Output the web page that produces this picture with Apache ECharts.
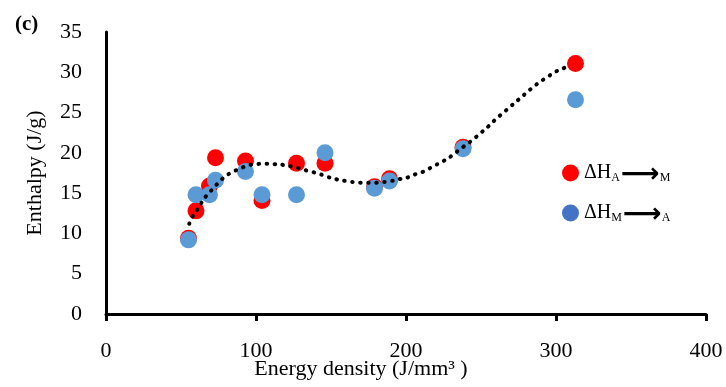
<!DOCTYPE html>
<html>
<head>
<meta charset="utf-8">
<script src="https://cdn.jsdelivr.net/npm/echarts@6/dist/echarts.min.js"></script>
<style>
  html, body { margin: 0; padding: 0; background: #fff; }
  #chart { width: 726px; height: 387px; }
</style>
</head>
<body>
<div id="chart"></div>
<script>
// energy density of each sample (J/mm3)
const energyDensity = [55, 60, 69, 73, 93, 104, 127, 146, 179, 189, 238, 313]
// enthalpy A -> M (red) and M -> A (blue), J/g
const enthalpyAM = [9.4, 12.8, 15.9, 19.4, 19.0, 14.1, 18.7, 18.7, 15.8, 16.8, 20.7, 31.1]
const enthalpyMA = [9.2, 14.8, 14.8, 16.6, 17.7, 14.8, 14.8, 20.0, 15.6, 16.5, 20.5, 26.6]
// dotted trendline
const trendX = [55.5, 58, 61, 64, 67, 71, 75, 79, 84, 89, 94, 100, 106, 112, 118, 124, 130, 136, 142, 148,
  154, 160, 166, 172, 178, 184, 190, 196, 202, 207, 212, 217, 222, 227, 231, 235, 240, 245, 250, 255,
  260, 265, 270, 275, 280, 285, 290, 295, 300, 305, 310]
const trendY = [11.2, 12.2, 13.0, 13.9, 14.7, 15.5, 16.3, 17.0, 17.6, 18.0, 18.4, 18.6, 18.65, 18.6, 18.5, 18.3, 18.0, 17.7, 17.4, 17.0,
  16.7, 16.5, 16.35, 16.3, 16.3, 16.35, 16.5, 16.75, 17.0, 17.4, 17.7, 18.2, 18.7, 19.2, 19.7, 20.3, 21.0, 21.7, 22.5, 23.3,
  24.2, 25.0, 25.8, 26.6, 27.4, 28.2, 28.9, 29.5, 30.1, 30.5, 30.9]
const xTicks = [0, 100, 200, 300, 400]
const yTicks = [0, 5, 10, 15, 20, 25, 30, 35]

const serif = '"Liberation Serif", "DejaVu Serif", serif'

const chart = echarts.init(document.getElementById('chart'))

const option = {
  animation: false,
  grid: { left: 106, right: 20, top: 32, bottom: 73, outerBoundsMode: 'none' },
  title: {
    text: '(c)', left: 10, top: 9,
    textStyle: { fontFamily: serif, fontSize: 21, fontWeight: 'bold', color: '#000' }
  },
  legend: {
    orient: 'vertical', left: 557, top: 156, itemGap: 13,
    itemWidth: 17, itemHeight: 17, icon: 'circle',
    data: [
      { name: 'AM', itemStyle: { color: '#ff0000' } },
      { name: 'MA', itemStyle: { color: '#4472c4' } }
    ],
    formatter: name => '{m|ΔH}{s|' + name[0] + '}{a|⟶}{s|' + name[1] + '}',
    textStyle: {
      rich: {
        m: { fontFamily: serif, fontSize: 20, color: '#000' },
        s: { fontFamily: serif, fontSize: 12, color: '#000', padding: [9, 0, 0, 0] },
        a: { fontFamily: '"DejaVu Sans"', fontSize: 27, fontWeight: 'bold', color: '#000', padding: [3, 0, 0, 1] }
      }
    }
  },
  xAxis: {
    type: 'value', min: xTicks[0], max: xTicks[xTicks.length - 1], interval: 100,
    name: 'Energy density (J/mm³ )', nameLocation: 'middle', nameGap: 44, nameMoveOverlap: false,
    nameTextStyle: { fontFamily: serif, fontSize: 22, color: '#000', padding: [0, 90, 0, 0] },
    axisLine: { lineStyle: { color: '#000', width: 3 } },
    axisTick: { show: true, length: 7, lineStyle: { color: '#000', width: 3 } },
    axisLabel: { fontFamily: serif, fontSize: 22, color: '#000', margin: 26 },
    splitLine: { show: false }
  },
  yAxis: {
    type: 'value', min: yTicks[0], max: yTicks[yTicks.length - 1], interval: 5,
    name: 'Enthalpy (J/g)', nameLocation: 'middle', nameGap: 60, nameMoveOverlap: false,
    nameTextStyle: { fontFamily: serif, fontSize: 22, color: '#000' },
    axisLine: { show: true, lineStyle: { color: '#000', width: 3 } },
    axisTick: { show: false },
    axisLabel: { fontFamily: serif, fontSize: 22, color: '#000', margin: 24 },
    splitLine: { show: false }
  },
  series: [
    {
      name: 'AM', type: 'scatter', symbolSize: 17,
      itemStyle: { color: '#ff0000', opacity: 1 },
      data: energyDensity.map((x, i) => [x, enthalpyAM[i]])
    },
    {
      name: 'MA', type: 'scatter', symbolSize: 17,
      itemStyle: { color: '#5b9bd5', opacity: 1 },
      data: energyDensity.map((x, i) => [x, enthalpyMA[i]])
    },
    {
      name: 'trend', type: 'line', smooth: true, symbol: 'none', z: 5,
      lineStyle: { color: '#000', width: 4, type: [0.5, 7.5], cap: 'round' },
      data: trendX.map((x, i) => [x, trendY[i]])
    }
  ]
}

chart.setOption(option)
</script>
</body>
</html>
